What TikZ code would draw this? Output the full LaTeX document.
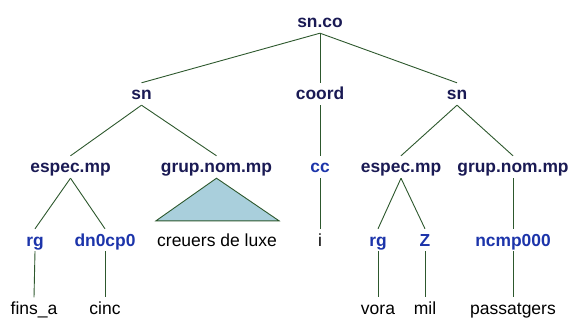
\documentclass[tikz,border=0pt]{standalone}
\usepackage{fontspec}
\setmainfont{Liberation Sans}
\usepackage{xcolor}
\usetikzlibrary{calc}
\definecolor{catInk}{RGB}{26,26,84}
\definecolor{tagInk}{RGB}{28,52,170}
\definecolor{branchLine}{RGB}{45,88,45}
\definecolor{triFill}{RGB}{169,207,220}
\tikzset{
  label/.style={
    anchor=base,
    inner sep=0pt,
    text height=17pt,
    text depth=5pt
  },
  catNode/.style={label, text=catInk, font=\fontsize{17.4}{20}\selectfont\bfseries},
  tagNode/.style={label, text=tagInk, font=\fontsize{17.4}{20}\selectfont\bfseries},
  wordNode/.style={label, text=black, font=\fontsize{17.5}{20}\selectfont},
  branch/.style={draw=branchLine, line width=0.9pt},
  roof/.style={draw=branchLine, line width=0.9pt, fill=triFill}
}
\begin{document}
\begin{tikzpicture}[x=1pt, y=-1pt]
  \useasboundingbox (0,0) rectangle (569,320);

  % level 1 and 2
  \node[catNode] (root) at (320,28) {sn.co};
  \node[catNode] (snL) at (141.5,100) {sn};
  \node[catNode] (coord) at (320,100) {coord};
  \node[catNode] (snR) at (457,100) {sn};

  % level 3
  \node[catNode] (specL) at (70.5,173) {espec.mp};
  \node[catNode] (gnomL) at (216.5,173) {grup.nom.mp};
  \node[tagNode] (cc) at (320,173) {cc};
  \node[catNode] (specR) at (401,173) {espec.mp};
  \node[catNode] (gnomR) at (513,173) {grup.nom.mp};

  % level 4
  \node[tagNode] (rgL) at (35,246) {rg};
  \node[tagNode] (dn) at (105,246) {dn0cp0};
  \node[wordNode] (luxe) at (217,246) {creuers de luxe};
  \node[wordNode] (i) at (320,246) {i};
  \node[tagNode] (rgR) at (378,246) {rg};
  \node[tagNode] (z) at (425,246) {Z};
  \node[tagNode] (nc) at (513,246) {ncmp000};

  % leaves
  \node[wordNode] (fins) at (34,314.5) {fins\_a};
  \node[wordNode] (cinc) at (105,314.5) {cinc};
  \node[wordNode] (vora) at (378,314.5) {vora};
  \node[wordNode] (mil) at (425,314.5) {mil};
  \node[wordNode] (pass) at (513,314.5) {passatgers};

  \draw[branch] (root.south) -- (snL.north);
  \draw[branch] (root.south) -- (coord.north);
  \draw[branch] (root.south) -- (snR.north);
  \draw[branch] (snL.south) -- (specL.north);
  \draw[branch] (snL.south) -- (gnomL.north);
  \draw[branch] (coord.south) -- (cc.north);
  \draw[branch] (snR.south) -- (specR.north);
  \draw[branch] (snR.south) -- (gnomR.north);
  \draw[branch] (specL.south) -- (rgL.north);
  \draw[branch] (specL.south) -- (dn.north);
  \draw[branch] (cc.south) -- (i.north);
  \draw[branch] (specR.south) -- (rgR.north);
  \draw[branch] (specR.south) -- (z.north);
  \draw[branch] (gnomR.south) -- (nc.north);
  \draw[branch] (rgL.south) -- (fins.north);
  \draw[branch] (dn.south) -- (cinc.north);
  \draw[branch] (rgR.south) -- (vora.north);
  \draw[branch] (z.south) -- (mil.north);
  \draw[branch] (nc.south) -- (pass.north);
  \draw[roof] (gnomL.south) -- ($(luxe.north west)+(-1,-8)$) -- ($(luxe.north east)+(2,-8)$) -- cycle;
\end{tikzpicture}
\end{document}
